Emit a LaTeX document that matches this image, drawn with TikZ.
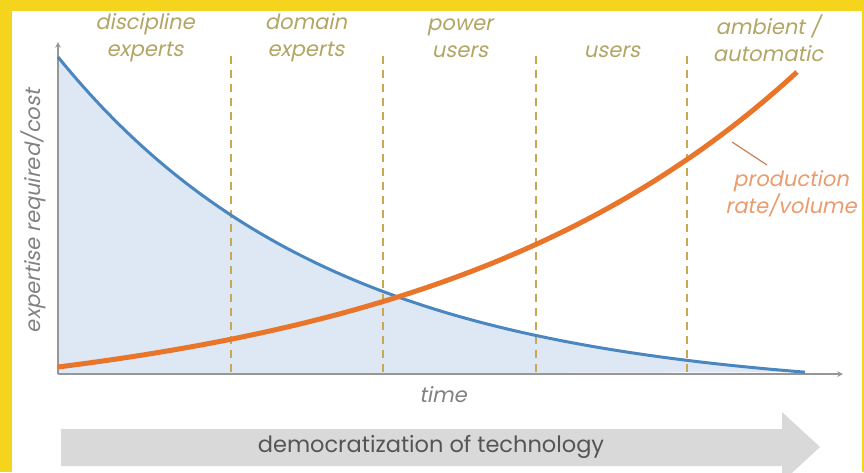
\documentclass[tikz,border=0pt]{standalone}
\usepackage{fontspec}
\setmainfont{Poppins}
\newfontfamily\slfont{Poppins}[FakeSlant=0.2]
\usepackage{tikz}
\usetikzlibrary{arrows,calc,positioning}
\definecolor{frameyellow}{RGB}{244,212,28}
\definecolor{labelolive}{RGB}{178,166,100}
\definecolor{dashgold}{RGB}{200,168,80}
\definecolor{axisgray}{RGB}{150,150,150}
\definecolor{costblue}{RGB}{74,134,192}
\definecolor{costfill}{RGB}{221,232,244}
\definecolor{rateorange}{RGB}{232,117,42}
\definecolor{prodorange}{RGB}{234,156,110}
\definecolor{leaderbrown}{RGB}{200,130,90}
\definecolor{arrowgray}{RGB}{217,217,217}
\definecolor{textgray}{RGB}{130,130,130}
\definecolor{demogray}{RGB}{85,85,85}
\tikzstyle{phase} = [text=labelolive, font=\slfont\fontsize{21}{27}\selectfont, align=center, inner sep=0pt]
\tikzstyle{prodlabel} = [text=prodorange, font=\slfont\fontsize{21}{27}\selectfont, align=center, inner sep=0pt]
\tikzstyle{axislabel} = [text=textgray, font=\slfont\fontsize{21}{24}\selectfont, inner sep=0pt]
\tikzstyle{divider} = [draw=dashgold, line width=1.6pt, dash pattern=on 8pt off 6pt]
\tikzstyle{axis} = [draw=axisgray, line width=1.5pt, ->, >=stealth]
\tikzstyle{cost} = [draw=costblue, line width=3pt]
\tikzstyle{rate} = [draw=rateorange, line width=5pt]
\tikzstyle{leader} = [draw=leaderbrown, line width=1.2pt]

\begin{document}
\begin{tikzpicture}[x=1pt, y=-1pt]
% frame
\fill[frameyellow] (0,0) rectangle (864,472);
\fill[white] (12,11) rectangle (862,472);
\useasboundingbox (0,0) rectangle (864,472);

\coordinate (origin) at (58,374);
\coordinate (ytip) at (58,42);
\coordinate (xtip) at (843,374);

% area under the cost curve
\fill[costfill] (origin) -- plot[domain=58:805, samples=120] (\x,{394-337*exp(-0.003657*(\x-58))}) -- cycle;

\foreach \p in {231,383,536,687}
  \draw[divider] (\p,56) -- (\p,374);

\draw[axis] (origin) -- (ytip);
\draw[axis] (origin) -- (xtip);

\draw[cost] plot[domain=58:805, samples=120] (\x,{394-337*exp(-0.003657*(\x-58))});
\draw[rate] plot[domain=58:797, samples=120] (\x,{414-47*exp(0.00269*(\x-58))});

\node (discipline) [phase] at (145,38) {discipline\\experts};
\node (domain)     [phase] at (306,38) {domain\\experts};
\node (power)      [phase] at (460,38) {power\\users};
\node (users)      [phase] at (612,52) {users};
\node (ambient)    [phase] at (768,38) {ambient /\\automatic};

\node (prod) [prodlabel] at (791,194) {production\\rate/volume};
\coordinate (leadstart) at (732,142);
\coordinate (leadend) at (767,165);
\draw [leader] (leadstart) -- (leadend);

\node (time) [axislabel] at (443,395) {time};
\node (expertise) [axislabel, rotate=90] at (33,211) {expertise required/cost};

% democratization arrow
\fill[arrowgray] (61,429) -- (782,429) -- (782,412) -- (820,447) -- (782,482) -- (782,466) -- (61,466) -- cycle;
\node (demo) [text=demogray, font=\fontsize{22.5}{24}\selectfont, inner sep=0pt] at (431,447) {democratization of technology};

\end{tikzpicture}
\end{document}
